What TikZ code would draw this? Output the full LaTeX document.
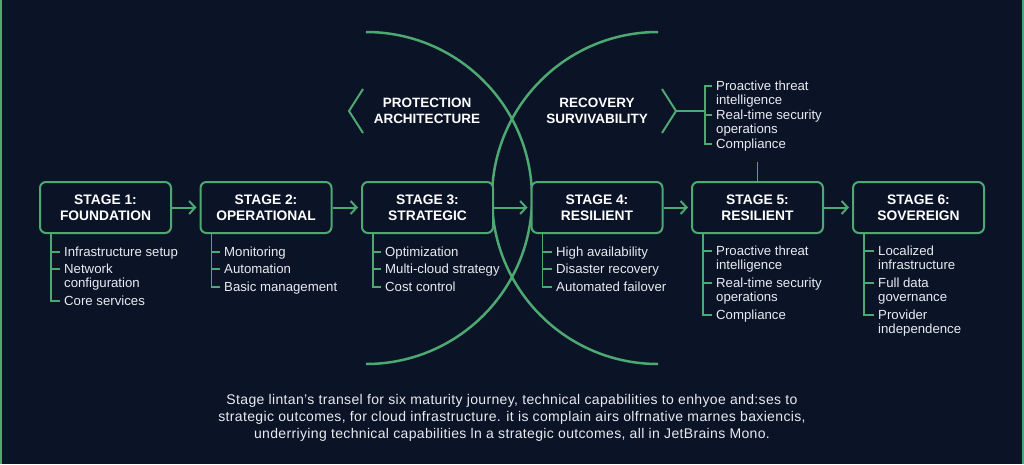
\documentclass[tikz,border=0pt]{standalone}
\usepackage{fontspec}
\setmainfont{Liberation Sans}
\usetikzlibrary{arrows.meta,calc}
\definecolor{bg}{HTML}{0B1327}
\definecolor{gr}{HTML}{4DA871}
\definecolor{tx}{HTML}{E8EBF0}
\newcommand\twoline[2]{\vtop{\baselineskip=14pt\hbox{#1}\hbox{#2}}}
\begin{document}
\begin{tikzpicture}[x=1pt,y=-1pt,
 stagebox/.style={draw=gr, line width=2pt, rounded corners=6pt, fill=bg, minimum width=131pt, minimum height=51pt, align=center, text=white, font=\bfseries\fontsize{13.8}{16}\selectfont, inner sep=0pt},
 item/.style={anchor=base west, inner sep=0pt, text=tx, font=\fontsize{13.2}{14}\selectfont},
 br/.style={draw=gr, line width=1.3pt},
 arr/.style={draw=gr, line width=2pt, -{Straight Barb[length=6pt,width=13pt]}, shorten >=3pt},
 arcline/.style={draw=gr, line width=2.5pt},
 chev/.style={draw=gr, line width=2pt},
 lab/.style={text=white, font=\bfseries\fontsize{13.5}{16}\selectfont, align=center},
 captext/.style={text=tx, font=\fontsize{14}{17}\selectfont\addfontfeature{LetterSpace=2.5}, align=center},
]
\useasboundingbox (0,0) rectangle (1024,464);
\fill[bg] (0,0) rectangle (1024,464);
% frame lines
\draw[gr, line width=2pt] (1,0) -- (1,464);
\draw[gr, line width=2pt] (1023,0) -- (1023,464);

% arcs
\draw[arcline] (366,32) arc[start angle=90, end angle=-90, radius=166pt];
\draw[arcline] (658,32) arc[start angle=90, end angle=270, radius=166pt];

% chevrons and labels
\draw[chev] (363,89) -- (349,111) -- (363,133);
\draw[chev] (662,89) -- (676,111) -- (662,133);
\node[lab] (prot) at (427,111) {PROTECTION\\ARCHITECTURE};
\node[lab] (reco) at (597,111) {RECOVERY\\SURVIVABILITY};

% stage boxes
\node[stagebox] (s1) at (105.5,207.5) {STAGE 1:\\FOUNDATION};
\node[stagebox] (s2) at (266,207.5) {STAGE 2:\\OPERATIONAL};
\node[stagebox] (s3) at (427.5,207.5) {STAGE 3:\\STRATEGIC};
\node[stagebox] (s4) at (597,207.5) {STAGE 4:\\RESILIENT};
\node[stagebox] (s5) at (757.5,207.5) {STAGE 5:\\RESILIENT};
\node[stagebox] (s6) at (918.5,207.5) {STAGE 6:\\SOVEREIGN};

\draw[arr] (s1) -- (s2);
\draw[arr] (s2) -- (s3);
\draw[arr] (s3) -- (s4);
\draw[arr] (s4) -- (s5);
\draw[arr] (s5) -- (s6);

% stub above stage 5
\coordinate (stub) at (757.5,162);
\draw[br] (s5.north) -- (stub);

% items stage 1
\node[item] (i11) at (64,256) {Infrastructure setup};
\node[item] (i12) at (64,273) {\twoline{Network}{configuration}};
\node[item] (i13) at (64,305) {Core services};
% stage 2
\node[item] (i21) at (224,256) {Monitoring};
\node[item] (i22) at (224,273) {Automation};
\node[item] (i23) at (224,291) {Basic management};
% stage 3
\node[item] (i31) at (385,256) {Optimization};
\node[item] (i32) at (385,273) {Multi-cloud strategy};
\node[item] (i33) at (385,291) {Cost control};
% stage 4
\node[item] (i41) at (556,256) {High availability};
\node[item] (i42) at (556,273) {Disaster recovery};
\node[item] (i43) at (556,291) {Automated failover};
% stage 5
\node[item] (i51) at (716,255) {\twoline{Proactive threat}{intelligence}};
\node[item] (i52) at (716,287) {\twoline{Real-time security}{operations}};
\node[item] (i53) at (716,319) {Compliance};
% stage 6
\node[item] (i61) at (878,255) {\twoline{Localized}{infrastructure}};
\node[item] (i62) at (878,287) {\twoline{Full data}{governance}};
\node[item] (i63) at (878,319) {\twoline{Provider}{independence}};
% top items
\node[item] (a1) at (716,90) {\twoline{Proactive threat}{intelligence}};
\node[item] (a2) at (716,119) {\twoline{Real-time security}{operations}};
\node[item] (a3) at (716,148) {Compliance};

% brackets under stages
\foreach \s in {1,...,6}{
  \coordinate (v\s) at ([xshift=12pt]s\s.south west);
  \foreach \k in {1,2,3}{
    \coordinate (t\s\k) at ([xshift=-4pt,yshift=4pt]i\s\k.base west);
  }
  \draw[br] (v\s) |- (t\s3);
  \draw[br] (v\s |- t\s1) -- (t\s1);
  \draw[br] (v\s |- t\s2) -- (t\s2);
}

% top bracket
\coordinate (rtip) at (676,111);
\coordinate (tv) at (705,111);
\foreach \k in {1,2,3}{
  \coordinate (ta\k) at ([xshift=-4pt,yshift=4pt]a\k.base west);
}
\draw[br] (ta1) -| (tv |- ta3) -- (ta3);
\draw[br] (tv |- ta2) -- (ta2);
\draw[br] (rtip) -- (tv);

% caption
\node[captext] (caption) at (512,418) {Stage lintan's transel for six maturity journey, technical capabilities to enhyoe and:ses to\\
strategic outcomes, for cloud infrastructure. it is complain airs olfrnative marnes baxiencis,\\
underriying technical capabilities ln a strategic outcomes, all in JetBrains Mono.};
\end{tikzpicture}
\end{document}
